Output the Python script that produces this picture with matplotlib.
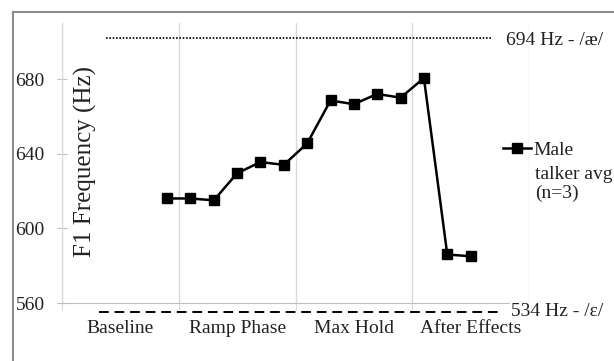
import matplotlib
matplotlib.use('Agg')
import matplotlib.pyplot as plt
from matplotlib.lines import Line2D

plt.rcParams['font.family'] = ['Liberation Serif', 'DejaVu Serif']

# data
phases = ['Baseline', 'Ramp Phase', 'Max Hold', 'After Effects']
f1_male = [616, 616, 615, 629.5, 635.5, 634, 645.5, 668.5, 666.5, 672, 670, 680.5, 586, 585]
ref_labels = ['694 Hz - /æ/', '534 Hz - /ε/']
series_label = 'Male\ntalker avg\n(n=3)'

slots_per_phase = 5
first_point_slot = 4  # points start in the last slot of Baseline

xs = [first_point_slot + i for i in range(len(f1_male))]
x_lo = -0.5
x_hi = x_lo + slots_per_phase * len(phases)
bounds = [x_lo + slots_per_phase * k for k in range(len(phases) + 1)]
centers = [b + slots_per_phase / 2 for b in bounds[:-1]]

fig = plt.figure(figsize=(6.14, 3.61), dpi=100)
ax = fig.add_axes([62 / 614, 1 - 303 / 361, 467 / 614, 280 / 361])

ax.plot(xs, f1_male, color='black', lw=1.8, marker='s', ms=6.5,
        label=series_label.split('\n')[0], zorder=5, clip_on=False)

ax.set_xlim(x_lo, x_hi)
ax.set_ylim(560, 710)
ax.set_yticks([560, 600, 640, 680])
ax.set_xticks(bounds)
ax.set_xticklabels([''] * len(bounds))
ax.set_xticks(centers, minor=True)
ax.set_xticklabels(phases, minor=True)
ax.grid(axis='x', which='major', color='#d9d9d9', lw=1)
ax.set_axisbelow(True)

for s in ['top', 'right']:
    ax.spines[s].set_visible(False)
ax.spines['left'].set_color('#d9d9d9')
ax.spines['bottom'].set_color('#bfbfbf')
ax.tick_params(axis='y', direction='inout', length=7, color='#bfbfbf',
               labelsize=14, pad=9, labelcolor='#222222')
ax.tick_params(axis='x', which='major', direction='out', length=5, color='#d9d9d9')
ax.tick_params(axis='x', which='minor', length=0, labelsize=14, pad=12,
               labelcolor='#222222')

ax.text(0.051, 0.507, 'F1 Frequency (Hz)', transform=ax.transAxes, rotation=90,
        ha='center', va='center', fontsize=18, color='#222222')

# reference vowel lines (drawn just outside the plotted range)
tr = ax.get_xaxis_transform()
ax.plot([1.4, 17.9], [0.946, 0.946], transform=tr, color='black', lw=1.2,
        ls=(0, (1, 1)), clip_on=False)
ax.plot([1.1, 18.4], [-0.032, -0.032], transform=tr, color='black', lw=1.4,
        ls=(0, (5, 3)), clip_on=False)
ax.text(18.5, 0.936, ref_labels[0], transform=tr, ha='left', va='center',
        fontsize=14, color='#222222')
ax.text(18.75, -0.032, ref_labels[1], transform=tr, ha='left', va='center',
        fontsize=14, color='#222222', zorder=6,
        bbox=dict(facecolor='white', edgecolor='none', pad=1.0))

# legend: first line next to the marker, the rest wrapped underneath
fig.legend(loc='upper left', bbox_to_anchor=(503 / 614, 1 - 141 / 361),
           frameon=False, fontsize=14, handlelength=1.45, handletextpad=0.1,
           borderpad=0, borderaxespad=0, labelcolor='#222222')
fig.text(535 / 614, 1 - 166 / 361, '\n'.join(series_label.split('\n')[1:]),
         ha='left', va='top', fontsize=14, color='#222222', linespacing=1.1)

# outer chart border
fig.add_artist(Line2D([13 / 614, 13 / 614], [0, 1 - 12 / 361],
                      transform=fig.transFigure, color='#8c8c8c', lw=1.5))
fig.add_artist(Line2D([13 / 614, 1], [1 - 12 / 361, 1 - 12 / 361],
                      transform=fig.transFigure, color='#8c8c8c', lw=1.5))

fig.savefig('out.png', dpi=100)
